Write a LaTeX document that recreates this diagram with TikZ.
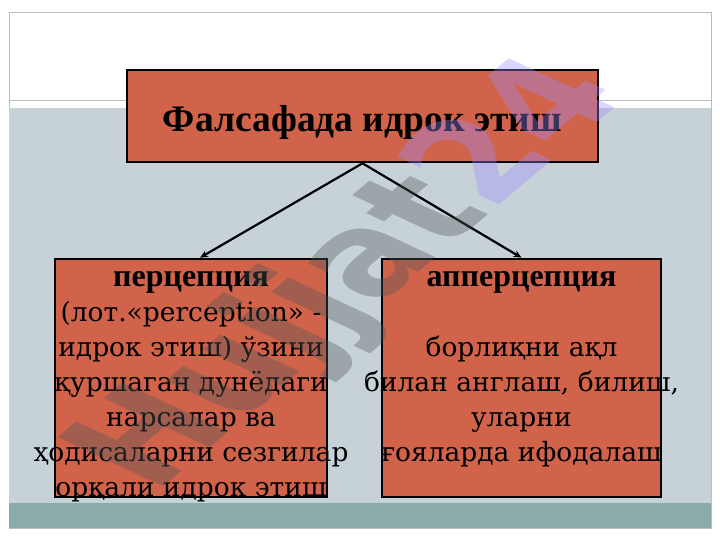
\documentclass[tikz,border=0pt]{standalone}
\usepackage{fontspec}
\setmainfont{DejaVu Serif}
\newfontfamily\headfont{Liberation Serif}
\newfontfamily\markfont{DejaVu Sans}
\usetikzlibrary{arrows.meta,positioning,calc}
\definecolor{slidebg}{HTML}{C6D2D8}
\definecolor{slideteal}{HTML}{8BABAA}
\definecolor{boxred}{HTML}{D0634A}
\definecolor{framegray}{HTML}{BDBDBD}
\definecolor{markgray}{HTML}{50565A}
\definecolor{markviolet}{HTML}{A08CFF}

\begin{document}
\begin{tikzpicture}[x=1pt,y=-1pt,
  conbox/.style={rectangle,draw=black,line width=2.6pt,fill=boxred,inner sep=0pt},
  boxtext/.style={align=center,font=\fontsize{26.5}{35}\selectfont,inner sep=0pt},
  branch/.style={-{Stealth[length=8pt,width=7pt]},line width=2.2pt}
]
\useasboundingbox (0,0) rectangle (720,540);
\fill[white] (0,0) rectangle (720,540);

% ---- slide background ---------------------------------------
\draw[framegray,line width=0.8pt] (9,12) rectangle (711,528);
\draw[framegray,line width=0.8pt] (9,100) -- (711,100);
\fill[slidebg] (9,108) rectangle (711,503);
\fill[slideteal] (9,503) rectangle (711,528);

% ---- title --------------------------------------------------
\node[conbox,minimum width=471pt,minimum height=92pt] (title) at (362.5,116) {};
\node[font=\headfont\bfseries\fontsize{37.5}{40}\selectfont,inner sep=0pt] (titletext)
  at ($(title.center)+(0,6)$) {Фалсафада идрок этиш};

% ---- perception ---------------------------------------------
\node[conbox,minimum width=272pt,minimum height=238pt] (perc) at (191,378) {};
\node[boxtext] (perctext) at ($(perc.center)+(0,9)$)
  {{\headfont\bfseries\fontsize{32}{35}\selectfont перцепция}\\
   (лот.«perception» -\\ идрок этиш) ўзини\\ қуршаган дунёдаги\\
   нарсалар ва\\ ҳодисаларни сезгилар\\ орқали идрок этиш};

% ---- apperception -------------------------------------------
\node[conbox,minimum width=279pt,minimum height=238pt] (apperc) at (521.5,378) {};
\node[boxtext] (appertext) at ($(apperc.center)+(0,-9)$)
  {{\headfont\bfseries\fontsize{32}{35}\selectfont апперцепция}\\[35pt]
   борлиқни ақл\\ билан англаш, билиш,\\ уларни\\ ғояларда ифодалаш};

% ---- connectors ---------------------------------------------
\draw[branch] (title.south) -- ($(perc.north)+(9,0)$);
\draw[branch] (title.south) -- (apperc.north);

% ---- watermark (slanted) ------------------------------------
\begin{scope}[shift={(154,495)},cm={0.996,0.836,-1.450,0.676,(0,0)}]
  \node[transform shape,anchor=base west,opacity=0.36,inner sep=0pt,
        font=\markfont\bfseries\fontsize{100}{100}\selectfont] (mark) at (0,0)
    {\textcolor{markgray}{Hujjat}\textcolor{markviolet}{24}};
\end{scope}
\end{tikzpicture}
\end{document}
